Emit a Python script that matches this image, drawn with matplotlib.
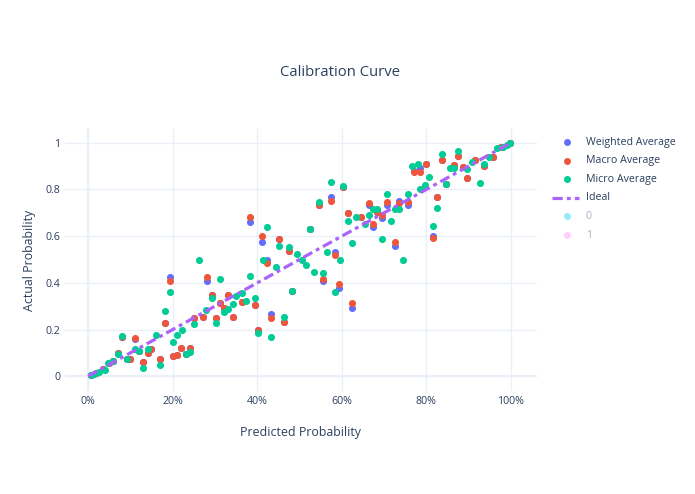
import matplotlib
matplotlib.use("Agg")
import matplotlib.pyplot as plt
from matplotlib.lines import Line2D

# ---- data ----
weighted_x = [0.008, 0.02, 0.035, 0.05, 0.06, 0.07, 0.08, 0.091, 0.10, 0.111, 0.12, 0.13, 0.143, 0.15,
              0.17, 0.182, 0.194, 0.20, 0.21, 0.22, 0.232, 0.241, 0.25, 0.271, 0.282, 0.292, 0.303,
              0.312, 0.322, 0.332, 0.342, 0.363, 0.383, 0.395, 0.403, 0.412, 0.422, 0.433, 0.452,
              0.463, 0.474, 0.483, 0.525, 0.545, 0.555, 0.575, 0.584, 0.594, 0.604, 0.615, 0.625,
              0.645, 0.665, 0.674, 0.684, 0.696, 0.706, 0.726, 0.736, 0.756, 0.77, 0.785, 0.80,
              0.816, 0.826, 0.836, 0.846, 0.866, 0.875, 0.887, 0.897, 0.916, 0.937, 0.957, 0.977, 0.998]
weighted_y = [0.005, 0.012, 0.03, 0.055, 0.065, 0.10, 0.17, 0.075, 0.073, 0.16, 0.107, 0.06, 0.10, 0.116,
              0.072, 0.23, 0.426, 0.086, 0.09, 0.12, 0.094, 0.121, 0.25, 0.254, 0.408, 0.347, 0.25,
              0.314, 0.294, 0.35, 0.253, 0.318, 0.661, 0.305, 0.197, 0.576, 0.50, 0.266, 0.586,
              0.233, 0.536, 0.366, 0.629, 0.733, 0.41, 0.766, 0.533, 0.376, 0.81, 0.70, 0.294,
              0.68, 0.733, 0.64, 0.704, 0.676, 0.733, 0.557, 0.752, 0.733, 0.88, 0.89, 0.91,
              0.60, 0.768, 0.926, 0.823, 0.905, 0.943, 0.894, 0.847, 0.928, 0.90, 0.94, 0.98, 0.998]

macro_x = weighted_x
macro_y = [0.005, 0.012, 0.03, 0.055, 0.065, 0.10, 0.17, 0.075, 0.073, 0.163, 0.107, 0.06, 0.10, 0.116,
           0.072, 0.23, 0.41, 0.086, 0.09, 0.12, 0.094, 0.121, 0.25, 0.254, 0.425, 0.347, 0.25,
           0.314, 0.294, 0.35, 0.253, 0.318, 0.68, 0.305, 0.197, 0.60, 0.483, 0.25, 0.586,
           0.233, 0.536, 0.366, 0.629, 0.733, 0.415, 0.75, 0.519, 0.397, 0.81, 0.70, 0.314,
           0.68, 0.743, 0.65, 0.704, 0.69, 0.747, 0.576, 0.743, 0.747, 0.875, 0.875, 0.91,
           0.59, 0.768, 0.926, 0.823, 0.905, 0.943, 0.894, 0.85, 0.928, 0.90, 0.94, 0.98, 0.998]

micro_x = [0.008, 0.015, 0.025, 0.04, 0.047, 0.059, 0.07, 0.08, 0.091, 0.111, 0.12, 0.13, 0.143, 0.161,
           0.17, 0.182, 0.194, 0.20, 0.21, 0.223, 0.232, 0.241, 0.25, 0.262, 0.28, 0.292, 0.303,
           0.312, 0.322, 0.332, 0.342, 0.351, 0.363, 0.373, 0.383, 0.395, 0.403, 0.413, 0.422,
           0.433, 0.444, 0.452, 0.463, 0.474, 0.483, 0.493, 0.505, 0.515, 0.525, 0.535, 0.545,
           0.555, 0.564, 0.575, 0.584, 0.596, 0.604, 0.615, 0.625, 0.634, 0.655, 0.665, 0.674,
           0.683, 0.694, 0.706, 0.716, 0.725, 0.735, 0.745, 0.756, 0.767, 0.78, 0.785, 0.797,
           0.806, 0.816, 0.826, 0.836, 0.846, 0.856, 0.866, 0.875, 0.897, 0.907, 0.927, 0.937,
           0.947, 0.968, 0.98, 0.99, 0.998]
micro_y = [0.005, 0.01, 0.02, 0.025, 0.056, 0.064, 0.095, 0.173, 0.075, 0.116, 0.107, 0.036, 0.116, 0.176,
           0.047, 0.279, 0.36, 0.147, 0.176, 0.20, 0.094, 0.104, 0.223, 0.50, 0.285, 0.334, 0.226,
           0.415, 0.276, 0.287, 0.311, 0.343, 0.357, 0.322, 0.43, 0.334, 0.186, 0.50, 0.64,
           0.169, 0.466, 0.557, 0.252, 0.552, 0.366, 0.523, 0.50, 0.476, 0.629, 0.447, 0.747,
           0.443, 0.533, 0.833, 0.361, 0.50, 0.815, 0.666, 0.572, 0.68, 0.654, 0.69, 0.716,
           0.716, 0.586, 0.779, 0.666, 0.716, 0.716, 0.50, 0.779, 0.90, 0.91, 0.80, 0.82,
           0.854, 0.643, 0.719, 0.95, 0.823, 0.89, 0.89, 0.966, 0.886, 0.918, 0.829, 0.91,
           0.94, 0.977, 0.98, 0.99, 0.998]

ideal_x = [0, 1]
ideal_y = [0, 1]

x_ticks = [0, 0.2, 0.4, 0.6, 0.8, 1.0]
x_tick_labels = ["0%", "20%", "40%", "60%", "80%", "100%"]
y_ticks = [0, 0.2, 0.4, 0.6, 0.8, 1.0]
y_tick_labels = ["0", "0.2", "0.4", "0.6", "0.8", "1"]

legend_labels = ["Weighted Average", "Macro Average", "Micro Average", "Ideal", "0", "1"]

# ---- style ----
W, H = 695, 494
FONT = "Open Sans"
TXT = "#2a3f5f"
GRID = "#EBF0F8"
C_W, C_M, C_U, C_I = "#636efa", "#EF553B", "#00cc96", "#ab63fa"

fig = plt.figure(figsize=(W / 100, H / 100), dpi=100)
L, R, T, B = 65, 537, 128, 391
ax = fig.add_axes([L / W, 1 - B / H, (R - L) / W, (B - T) / H])
ax.set_xlim(-0.0544, 1.0615)
ax.set_ylim(-0.063, 1.063)

for s in ax.spines.values():
    s.set_visible(False)
ax.set_xticks(x_ticks)
ax.set_xticklabels(x_tick_labels)
ax.set_yticks(y_ticks)
ax.set_yticklabels(y_tick_labels)
ax.tick_params(length=0, labelsize=7.7, labelcolor=TXT, pad=3.5)
for lab in ax.get_xticklabels() + ax.get_yticklabels():
    lab.set_fontfamily(FONT)
ax.grid(True, color=GRID, lw=1.0, zorder=0)
ax.axhline(0, color=GRID, lw=1.6, zorder=0.5)
ax.axvline(0, color=GRID, lw=1.6, zorder=0.5)
ax.set_axisbelow(True)

ms = 26
ax.scatter(weighted_x, weighted_y, s=ms, color=C_W, lw=0, zorder=3)
ax.scatter(macro_x, macro_y, s=ms, color=C_M, lw=0, zorder=4)
ax.scatter(micro_x, micro_y, s=ms, color=C_U, lw=0, zorder=5)
ax.plot(ideal_x, ideal_y, color=C_I, lw=2.3, dashes=(3.2, 1.3, 1.2, 1.3), zorder=6)

fig.text(340.5 / W, 1 - 73 / H, "Calibration Curve", ha="center", va="center",
         fontsize=10.7, color=TXT, family=FONT)
fig.text(301 / W, 1 - 432 / H, "Predicted Probability", ha="center", va="center",
         fontsize=8.9, color=TXT, family=FONT)
fig.text(30 / W, 1 - 260 / H, "Actual Probability", ha="center", va="center",
         rotation=90, fontsize=8.9, color=TXT, family=FONT)

# ---- legend (manual) ----
leg_colors = [C_W, C_M, C_U, C_I, "#19d3f3", "#FF97FF"]
for i, (lab, c) in enumerate(zip(legend_labels, leg_colors)):
    yp = 1 - (142 + i * 18.6) / H
    if lab == "Ideal":
        fig.add_artist(Line2D([552 / W, 579 / W], [yp, yp], color=c, lw=2.3,
                              dashes=(3.2, 1.3, 1.2, 1.3), transform=fig.transFigure))
    else:
        alpha = 0.45 if i >= 4 else 1.0
        fig.add_artist(Line2D([567 / W], [yp], marker="o", ms=5.0, color=c, lw=0,
                              mew=0, alpha=alpha, transform=fig.transFigure))
    tc = TXT if i < 4 else "#a9b2c3"
    fig.text(586 / W, yp, lab, ha="left", va="center", fontsize=7.7, color=tc, family=FONT)

fig.savefig("out.png", dpi=100)
